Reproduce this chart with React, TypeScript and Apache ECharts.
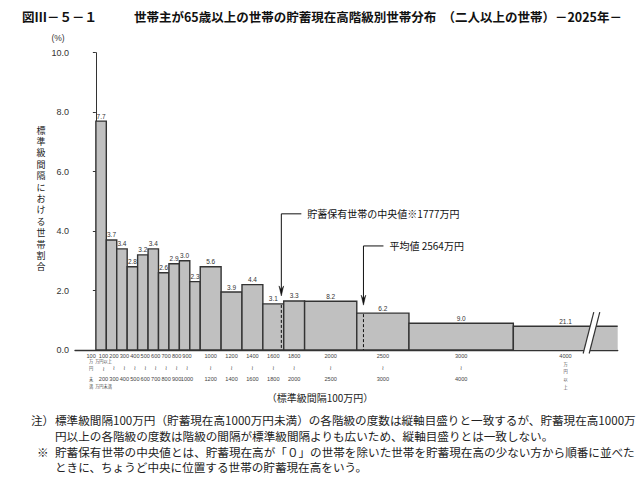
import React, { useEffect, useRef } from "react";
import * as echarts from "echarts";

// ---- data ----
const binLower = [0, 100, 200, 300, 400, 500, 600, 700, 800, 900, 1000, 1200, 1400, 1600, 1800, 2000, 2500, 3000, 4000];
const binUpper = [100, 200, 300, 400, 500, 600, 700, 800, 900, 1000, 1200, 1400, 1600, 1800, 2000, 2500, 3000, 4000, 5000];
const shareLabels = ["7.7", "3.7", "3.4", "2.8", "3.2", "3.4", "2.6", "2.9", "3.0", "2.3", "5.6", "3.9", "4.4", "3.1", "3.3", "8.2", "6.2", "9.0", "21.1"];
// bar heights as drawn (share per standard 100万円 interval)
const barHeights = [7.7, 3.7, 3.4, 2.8, 3.2, 3.4, 2.6, 2.9, 3.0, 2.3, 2.8, 1.95, 2.2, 1.55, 1.65, 1.64, 1.24, 0.9, 0.8];
const xLabels: string[][] = [
  ["100", "万", "円", "未", "満"],
  ["100", "万円以上", "≀", "200", "万円未満"],
  ["200", "≀", "300"],
  ["300", "≀", "400"],
  ["400", "≀", "500"],
  ["500", "≀", "600"],
  ["600", "≀", "700"],
  ["700", "≀", "800"],
  ["800", "≀", "900"],
  ["900", "≀", "1000"],
  ["1000", "≀", "1200"],
  ["1200", "≀", "1400"],
  ["1400", "≀", "1600"],
  ["1600", "≀", "1800"],
  ["1800", "≀", "2000"],
  ["2000", "≀", "2500"],
  ["2500", "≀", "3000"],
  ["3000", "≀", "4000"],
  ["4000", "万", "円", "以", "上"],
];
const yTickValues = [0, 2, 4, 6, 8, 10];
const markerValues = [1777, 2564];
const markerTexts = ["貯蓄保有世帯の中央値※1777万円", "平均値 2564万円"];

// ---- layout / style ----
const annotationLevels = [4.58, 3.5];
const JP = "'Noto Sans CJK JP', 'Noto Sans', sans-serif";
const NUM = "'Liberation Sans', Arial, sans-serif";
const BAR_FILL = "#c0c0c0";
const EDGE = "#333333";

const titleHead = "図Ⅲ－５－１";
const titleBody = "世帯主が65歳以上の世帯の貯蓄現在高階級別世帯分布　（二人以上の世帯）－2025年－";
const yName = "標準級間隔における世帯割合";
const notes = [
  { x: 31, y: 420, t: "注）" },
  { x: 55, y: 420, t: "標準級間隔100万円（貯蓄現在高1000万円未満）の各階級の度数は縦軸目盛りと一致するが、貯蓄現在高1000万" },
  { x: 55, y: 436, t: "円以上の各階級の度数は階級の間隔が標準級間隔よりも広いため、縦軸目盛りとは一致しない。" },
  { x: 37, y: 452, t: "※" },
  { x: 55, y: 452, t: "貯蓄保有世帯の中央値とは、貯蓄現在高が「０」の世帯を除いた世帯を貯蓄現在高の少ない方から順番に並べた" },
  { x: 55, y: 467, t: "ときに、ちょうど中央に位置する世帯の貯蓄現在高をいう。" },
];

function txt(x: number, y: number, text: string, size: number, opts: any = {}) {
  const align = opts.align || "left";
  return {
    type: "text",
    silent: true,
    style: {
      text,
      x,
      y,
      fontSize: size,
      fontFamily: opts.family || JP,
      fontWeight: opts.weight || "normal",
      fill: opts.fill || "#222",
      align,
      textAlign: align,
      verticalAlign: "middle",
      textVerticalAlign: "middle",
    },
  };
}

function isCjk(s: string) {
  return /[\u3000-\u9fff]/.test(s);
}

export default function App() {
  const ref = useRef<HTMLDivElement>(null);
  useEffect(() => {
    const chart = echarts.init(ref.current!, null, { renderer: "svg" });
    const n = binLower.length;

    const barSeries = {
      type: "custom",
      clip: false,
      z: 3,
      data: binLower.map((lo, i) => [lo, binUpper[i], barHeights[i], i]),
      renderItem: (params: any, api: any) => {
        const i = api.value(3);
        const lo = api.value(0);
        const hi = api.value(1);
        const h = api.value(2);
        const p0 = api.coord([lo, 0]);
        const p1 = api.coord([hi, h]);
        const left = p0[0];
        const right = p1[0];
        const top = p1[1];
        const bottom = p0[1];
        const children: any[] = [];
        const open = i === n - 1;
        if (!open) {
          children.push({
            type: "rect",
            shape: { x: left, y: top, width: right - left, height: bottom - top },
            style: { fill: BAR_FILL, stroke: EDGE, lineWidth: 1.4 },
          });
        } else {
          children.push({
            type: "rect",
            shape: { x: left, y: top, width: right - left, height: bottom - top },
            style: { fill: BAR_FILL, stroke: null },
          });
          children.push({
            type: "polyline",
            shape: { points: [[left, bottom], [left, top], [right, top]] },
            style: { stroke: EDGE, lineWidth: 1.4, fill: null },
          });
          // break mark
          const bx = left + 0.72 * (right - left);
          const yT = top - 14;
          const yB = bottom + 3.5;
          const L = [[bx + 5.3, yT], [bx - 5.3, yB]];
          const R = [[bx + 11.3, yT], [bx + 0.7, yB]];
          children.push({
            type: "polygon",
            shape: { points: [L[0], R[0], R[1], L[1]] },
            style: { fill: "#ffffff", stroke: null },
          });
          children.push({ type: "line", shape: { x1: L[0][0], y1: L[0][1], x2: L[1][0], y2: L[1][1] }, style: { stroke: EDGE, lineWidth: 1.2 } });
          children.push({ type: "line", shape: { x1: R[0][0], y1: R[0][1], x2: R[1][0], y2: R[1][1] }, style: { stroke: EDGE, lineWidth: 1.2 } });
        }
        const cx = (left + right) / 2;
        children.push(txt(cx, top - 5, shareLabels[i], 6.5, { align: "center", family: NUM, fill: "#333" }));
        // category labels below axis
        const lines = xLabels[i];
        let offs: number[];
        if (lines.length === 5) {
          offs = lines[1] === "万" && lines[4] === "上" ? [5.5, 13.5, 21, 29, 36.5] : [5.5, 11, 18, 28.5, 36];
        } else {
          offs = [5.5, 17, 28.5];
        }
        const lx = i === 0 ? cx - 10 : i < 10 ? cx - 8 : cx;
        lines.forEach((s, j) => {
          const tilde = s === "≀";
          const cj = isCjk(s);
          children.push(
            txt(lx, bottom + offs[j], s, tilde ? 6 : cj ? 4.2 : 5.6, {
              align: "center",
              family: tilde ? "'DejaVu Sans', sans-serif" : cj ? JP : NUM,
              fill: "#444",
            })
          );
        });
        return { type: "group", children };
      },
    };

    const markerSeries = {
      type: "custom",
      clip: false,
      z: 4,
      data: markerValues.map((v, k) => [v, annotationLevels[k], k]),
      renderItem: (params: any, api: any) => {
        const v = api.value(0);
        const lvl = api.value(1);
        const k = api.value(2);
        let bi = 0;
        for (let i = 0; i < binLower.length; i++) if (v >= binLower[i] && v < binUpper[i]) bi = i;
        const pb = api.coord([v, 0]);
        const pt = api.coord([v, barHeights[bi]]);
        const pl = api.coord([v, lvl]);
        const x = pb[0];
        const tip = pt[1] - 8;
        return {
          type: "group",
          children: [
            { type: "line", shape: { x1: x, y1: pt[1] + 1, x2: x, y2: pb[1] }, style: { stroke: "#111", lineWidth: 1, lineDash: [3, 2] } },
            { type: "polyline", shape: { points: [[x + 20, pl[1]], [x, pl[1]], [x, tip - 4]] }, style: { stroke: "#111", lineWidth: 1, fill: null } },
            { type: "polygon", shape: { points: [[x - 2.3, tip - 10], [x, tip], [x + 2.3, tip - 10], [x, tip - 6]] }, style: { fill: "#111", stroke: "#111", lineWidth: 0.5 } },
            txt(x + 26, pl[1], markerTexts[k], 10, { fill: "#111" }),
          ],
        };
      },
    };

    const graphics: any[] = [
      txt(22, 16, titleHead, 12.5, { weight: "bold", fill: "#111" }),
      txt(622, 16, titleBody, 12.5, { weight: "bold", fill: "#111", align: "right" }),
      txt(58, 38, "(%)", 8.5, { align: "center", family: NUM, fill: "#333" }),
      ...yName.split("").map((c, k) => txt(41, 130 + k * 11.4, c, 9, { align: "center", fill: "#222" })),
      txt(320, 397, "（標準級間隔100万円）", 10, { align: "center", fill: "#222" }),
      ...notes.map((nt) => txt(nt.x, nt.y, nt.t, 11.6, { fill: "#222" })),
    ];

    chart.setOption({
      animation: false,
      backgroundColor: "#ffffff",
      grid: { left: 75, right: 20.3, top: 52.7, bottom: 128, containLabel: false },
      xAxis: {
        type: "value",
        min: -200,
        max: 5000,
        axisLine: { show: true, lineStyle: { color: EDGE, width: 1.4 } },
        axisTick: { show: false },
        axisLabel: { show: false },
        splitLine: { show: false },
      },
      yAxis: {
        type: "value",
        min: yTickValues[0],
        max: yTickValues[yTickValues.length - 1],
        interval: yTickValues[1] - yTickValues[0],
        axisLine: { show: true, lineStyle: { color: EDGE, width: 1 } },
        axisTick: { show: true, length: 3, lineStyle: { color: EDGE } },
        axisLabel: { formatter: (v: number) => v.toFixed(1), fontSize: 9, color: "#333", margin: 6, fontFamily: NUM },
        splitLine: { show: false },
      },
      graphic: graphics,
      series: [barSeries, markerSeries],
    });
    return () => chart.dispose();
  }, []);
  return <div ref={ref} style={{ position: "fixed", left: 0, top: 0, width: 638, height: 478 }} />;
}
